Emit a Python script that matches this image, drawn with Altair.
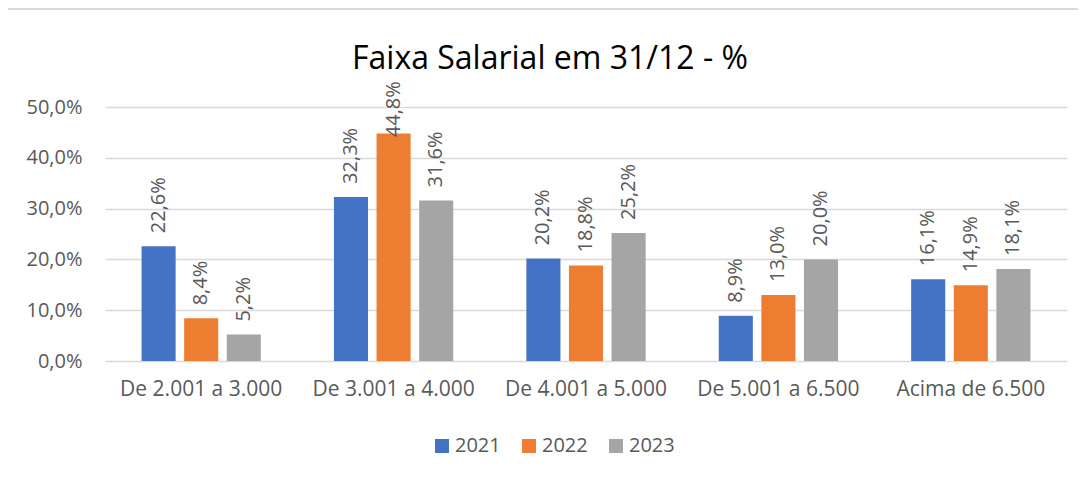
import altair as alt
import pandas as pd

categories = ["De 2.001 a 3.000", "De 3.001 a 4.000", "De 4.001 a 5.000", "De 5.001 a 6.500", "Acima de 6.500"]
years = ["2021", "2022", "2023"]
v2021 = [22.6, 32.3, 20.2, 8.9, 16.1]
v2022 = [8.4, 44.8, 18.8, 13.0, 14.9]
v2023 = [5.2, 31.6, 25.2, 20.0, 18.1]
colors = ["#4472C4", "#ED7D31", "#A5A5A5"]

rows = []
for y, vals in zip(years, [v2021, v2022, v2023]):
    for c, v in zip(categories, vals):
        rows.append({"cat": c, "year": y, "value": v / 100})
df = pd.DataFrame(rows)

FONT = "Open Sans"
TXT = "#595959"

base = alt.Chart(df).encode(
    x=alt.X("cat:N", sort=categories, title=None,
            scale=alt.Scale(paddingInner=0.38, paddingOuter=0.19),
            axis=alt.Axis(labelAngle=0, labelFontSize=21, labelColor=TXT, labelFont=FONT,
                          ticks=False, domain=False, labelPadding=17)),
    xOffset=alt.XOffset("year:N", sort=years, scale=alt.Scale(paddingInner=0.2)),
)

bars = base.mark_bar().encode(
    y=alt.Y("value:Q", title=None,
            scale=alt.Scale(domain=[0, 0.5]),
            axis=alt.Axis(values=[0, 0.1, 0.2, 0.3, 0.4, 0.5],
                          labelExpr="replace(format(datum.value, '.1%'), '.', ',')",
                          labelFontSize=20, labelColor=TXT, labelFont=FONT,
                          ticks=False, domain=False, labelPadding=23,
                          grid=True, gridColor="#D9D9D9", gridWidth=1.5)),
    color=alt.Color("year:N", sort=years, title=None,
                    scale=alt.Scale(domain=years, range=colors),
                    legend=alt.Legend(orient="none", direction="horizontal",
                                      legendX=327, legendY=329,
                                      symbolType="square", symbolSize=196,
                                      symbolStrokeWidth=0,
                                      labelFontSize=20, labelColor=TXT, labelFont=FONT,
                                      columnPadding=18, labelOffset=3)),
)

# data labels are kept inside the plot area (as the original does for the tallest bar)
labels = base.mark_text(angle=270, align="left", baseline="middle", dx=13,
                        fontSize=20, color=TXT, font=FONT).transform_calculate(
    label="replace(format(datum.value, '.1%'), '.', ',')",
    pos="min(datum.value, 0.415)",
).encode(
    y=alt.Y("pos:Q"),
    text="label:N",
)

border = alt.Chart(df).mark_rect(fill=None, stroke="#D9D9D9", strokeWidth=1.5).encode(
    x=alt.value(-98), y=alt.value(-98), x2=alt.value(3000), y2=alt.value(3000)
)

chart = alt.layer(border, bars, labels).properties(
    width=962, height=254,
    autosize=alt.AutoSizeParams(type="none"),
    padding={"left": 97, "top": 99, "right": 11, "bottom": 110},
    title=alt.TitleParams("Faixa Salarial em 31/12 - %", fontSize=32, font=FONT,
                          fontWeight="normal", color="#000000", anchor="middle",
                          dx=-36, offset=-93, baseline="alphabetic"),
).configure_view(stroke=None)

chart.save("out.html", embed_options={"renderer": "svg", "actions": False})
